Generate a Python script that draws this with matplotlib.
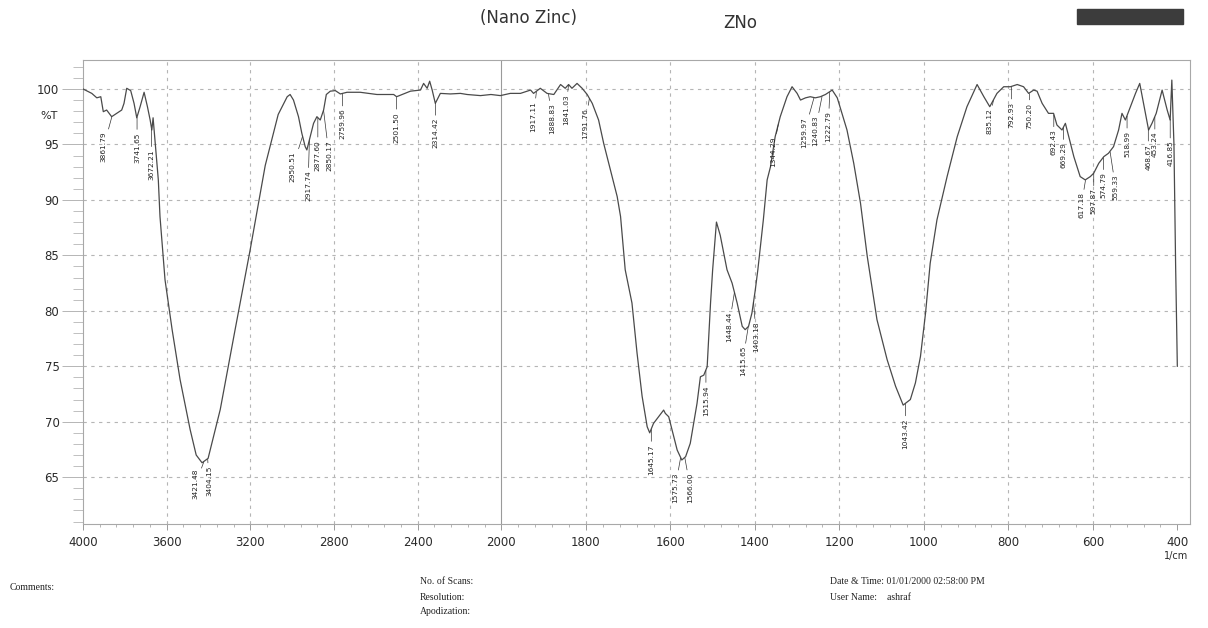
import numpy as np
import matplotlib
matplotlib.use("Agg")
import matplotlib.pyplot as plt
from matplotlib.patches import Rectangle
from matplotlib.ticker import FixedLocator

# FTIR spectrum of nano ZnO (wavenumber in 1/cm, %T)
wavenumber = [
    4000, 3958, 3934, 3915, 3903, 3887, 3863, 3839, 3815, 3804, 3791, 3772, 3756,
    3743, 3727, 3708, 3692, 3679, 3671, 3665, 3640, 3632, 3608, 3574, 3536, 3488,
    3459, 3431, 3402, 3344, 3273, 3201, 3129, 3067, 3024, 3010, 2994, 2970, 2954,
    2938, 2930, 2914, 2898, 2882, 2866, 2850, 2837, 2818, 2794, 2770, 2738, 2675,
    2595, 2515, 2501, 2435, 2387, 2372, 2355, 2343, 2331, 2316, 2292, 2244, 2196,
    2164, 2100, 2050, 2005, 1979, 1955, 1931, 1924, 1908, 1892, 1876, 1860, 1849,
    1841, 1833, 1821, 1809, 1797, 1785, 1770, 1758, 1742, 1726, 1718, 1707, 1691,
    1679, 1667, 1655, 1649, 1640, 1628, 1616, 1612, 1604, 1596, 1584, 1573, 1564,
    1553, 1537, 1529, 1521, 1513, 1505, 1500, 1491, 1482, 1466, 1454, 1442, 1430,
    1423, 1415, 1407, 1399, 1393, 1380, 1371, 1363, 1352, 1340, 1324, 1312, 1300,
    1292, 1280, 1269, 1257, 1245, 1233, 1217, 1205, 1182, 1166, 1150, 1134, 1111,
    1087, 1067, 1049, 1032, 1020, 1008, 996, 985, 969, 945, 921, 898, 874, 858,
    844, 827, 811, 795, 779, 764, 752, 740, 732, 720, 705, 693, 685, 673, 665, 657,
    645, 630, 618, 606, 598, 586, 574, 563, 551, 539, 531, 523, 511, 499, 489, 480,
    468, 460, 450, 436, 424, 417, 413, 408, 404, 400,
]
transmittance = [
    100.0, 99.6, 99.2, 99.3, 97.95, 98.1, 97.5, 97.8, 98.1, 98.7, 100.06, 99.85, 98.7,
    97.4, 98.4, 99.7, 98.4, 97.2, 96.3, 97.4, 91.8, 88.5, 82.8, 78.3, 73.8, 69.3,
    67.0, 66.3, 66.7, 71.1, 78.3, 85.5, 93.1, 97.7, 99.3, 99.5, 99.0, 97.5, 96.0,
    94.8, 94.5, 95.7, 96.9, 97.5, 97.2, 98.1, 99.5, 99.8, 99.85, 99.55, 99.7, 99.7,
    99.5, 99.5, 99.3, 99.8, 99.9, 100.5, 100.06, 100.7, 99.9, 98.7, 99.6, 99.55, 99.6,
    99.5, 99.4, 99.5, 99.4, 99.6, 99.6, 99.9, 99.6, 100.06, 99.6, 99.5, 100.4, 100.06,
    100.4, 100.06, 100.5, 100.06, 99.5, 98.7, 97.2, 95.1, 92.7, 90.3, 88.5, 83.7, 80.7,
    76.2, 72.3, 69.55, 69.0, 69.85, 70.45, 71.05, 70.75, 70.45, 69.25, 67.45, 66.55, 66.85,
    68.05, 71.65, 74.05, 74.2, 74.95, 80.7, 83.7, 88.0, 86.8, 83.7, 82.5, 80.7, 78.6,
    78.3, 78.6, 79.8, 81.9, 83.7, 88.2, 91.8, 93.0, 95.7, 97.5, 99.3, 100.2, 99.6,
    99.0, 99.2, 99.3, 99.2, 99.3, 99.5, 99.9, 99.2, 96.3, 93.3, 89.7, 84.9, 79.2,
    75.6, 73.2, 71.5, 72.0, 73.5, 75.9, 79.8, 84.3, 88.2, 92.1, 95.7, 98.4, 100.4, 99.3,
    98.4, 99.6, 100.2, 100.2, 100.4, 100.2, 99.6, 99.9, 99.8, 98.7, 97.8, 97.8, 96.75, 96.3, 96.9, 95.7,
    93.9, 92.1, 91.8, 92.1, 92.4, 93.3, 93.9, 94.2, 94.8, 96.3, 97.8, 97.2, 98.4, 99.6, 100.5, 98.7,
    96.3, 96.9, 97.8, 99.9, 98.1, 97.2, 100.8, 95.0, 84.0, 75.0,
]

peak_labels = [
    "3861.79", "3741.65", "3672.21", "3421.48", "3404.15", "2950.51", "2917.74",
    "2877.60", "2850.17", "2759.96", "2501.50", "2314.42", "1917.11", "1888.83",
    "1841.03", "1791.76", "1645.17", "1575.73", "1566.00", "1515.94", "1448.44",
    "1415.65", "1403.18", "1344.29", "1259.97", "1240.83", "1222.79", "1043.42",
    "835.12", "792.93", "750.20", "692.43", "669.29", "617.18", "597.87", "574.79",
    "559.33", "518.99", "468.67", "453.24", "416.85",
]

xticks = [4000, 3600, 3200, 2800, 2400, 2000, 1800, 1600, 1400, 1200, 1000, 800, 600, 400]
yticks = [65, 70, 75, 80, 85, 90, 95, 100]


# the print uses 400 1/cm per division above 2000 and 200 per division below
def fwd(w):
    w = np.asarray(w, dtype=float)
    return np.where(w >= 2000, 675.2 + (w - 2000) / 400 * 83.6, (w - 400) / 200 * 84.4)


def inv(u):
    u = np.asarray(u, dtype=float)
    return np.where(u >= 675.2, 2000 + (u - 675.2) / 83.6 * 400, 400 + u / 84.4 * 200)


W, H = 1208, 628
fig = plt.figure(figsize=(W / 100, H / 100), dpi=100)
fig.patch.set_facecolor("white")
ax = fig.add_axes([83 / W, 1 - 524 / H, 1107 / W, 464 / H])

ax.set_xscale("function", functions=(fwd, inv))
ax.set_xlim(4000, 370)
ax.set_ylim(60.78, 102.61)

# grid
for x in xticks[1:-1]:
    if x == 2000:
        ax.axvline(x, color="#9a9a9a", lw=0.8, zorder=1)
    else:
        ax.axvline(x, color="#b5b5b5", lw=0.8, ls=(0, (3, 4)), zorder=1)
for y in yticks:
    ax.axhline(y, color="#b5b5b5", lw=0.8, ls=(0, (3, 4)), zorder=1)

ax.plot(wavenumber, transmittance, color="#4a4a4a", lw=0.9, zorder=3)

# peak picks
wn_r = np.array(wavenumber[::-1], dtype=float)
tr_r = np.array(transmittance[::-1], dtype=float)
tweak = {
    "3861.79": (-6, 11), "3672.21": (0, 15), "3421.48": (-6, 5), "3404.15": (1, 5),
    "2950.51": (-7, 11), "2917.74": (-1, 22), "2877.60": (0, 16), "2850.17": (4, 22),
    "1917.11": (-2, 7), "1888.83": (3, 7), "1841.03": (-2, 7), "1791.76": (-3, 7),
    "1575.73": (-4, 11), "1566.00": (4, 11), "1448.44": (-4, 14), "1415.65": (-4, 14),
    "1403.18": (2, 14), "1344.29": (-4, 9), "1259.97": (-7, 14), "1240.83": (-5, 14),
    "1222.79": (-1, 14), "835.12": (-3, 6), "750.20": (0, 7), "559.33": (4, 17),
    "416.85": (0, 16), "617.18": (-3, 9),
}
for lab in peak_labels:
    w = float(lab)
    tc = float(np.interp(w, wn_r, tr_r))
    dx, dy = tweak.get(lab, (0, 11))
    ax.annotate(lab, xy=(w, tc), xytext=(dx, -dy), textcoords="offset points",
                rotation=90, ha="center", va="top", fontsize=5.3, color="#222222",
                arrowprops=dict(arrowstyle="-", lw=0.5, color="#333333",
                                shrinkA=0, shrinkB=0.5),
                zorder=4)

# axes styling
for s in ax.spines.values():
    s.set_color("#a8a8a8")
    s.set_linewidth(0.8)

ax.xaxis.set_major_locator(FixedLocator(xticks))
ax.set_xticklabels([str(t) for t in xticks])
ax.xaxis.set_minor_locator(FixedLocator(list(range(2080, 4000, 80)) + list(range(440, 2000, 40))))
ax.yaxis.set_major_locator(FixedLocator(yticks))
ax.set_yticklabels([str(t) for t in yticks])
ax.yaxis.set_minor_locator(FixedLocator(list(range(61, 103))))

ax.tick_params(axis="x", which="major", direction="out", length=4, width=0.7,
               color="#9a9a9a", pad=5, labelsize=8.5, labelcolor="#2a2a2a")
ax.tick_params(axis="x", which="minor", direction="out", length=2.5, width=0.6, color="#a8a8a8")
ax.tick_params(axis="y", which="major", direction="out", length=15, width=0.7,
               color="#b5b5b5", pad=2, labelsize=8.5, labelcolor="#2a2a2a")
ax.tick_params(axis="y", which="minor", direction="out", length=7, width=0.6, color="#b5b5b5")

fig.text(40 / W, 1 - 116 / H, "%T", fontsize=8, color="#2a2a2a", va="center", ha="left")
fig.text(1176 / W, 1 - 556 / H, "1/cm", fontsize=7, color="#2a2a2a", va="center", ha="center")

# header (handwritten on the print)
fig.text(528 / W, 1 - 18 / H, "(Nano Zinc)", fontsize=12, color="#333333", ha="center", va="center")
fig.text(740 / W, 1 - 23 / H, "ZNo", fontsize=12, color="#333333", ha="center", va="center")
fig.add_artist(Rectangle((1077 / W, 1 - 24 / H), 106 / W, 15 / H,
                         transform=fig.transFigure, color="#3c3c3c"))

# footer
serif = dict(family="Liberation Serif", fontsize=7, color="#222222", va="center", ha="left")
fig.text(10 / W, 1 - 588 / H, "Comments:", **serif)
fig.text(420 / W, 1 - 582 / H, "No. of Scans:", **serif)
fig.text(420 / W, 1 - 597 / H, "Resolution:", **serif)
fig.text(420 / W, 1 - 612 / H, "Apodization:", **serif)
fig.text(830 / W, 1 - 582 / H, "Date & Time: 01/01/2000 02:58:00 PM", **serif)
fig.text(830 / W, 1 - 597 / H, "User Name:    ashraf", **serif)

fig.savefig("out.png", dpi=100)
